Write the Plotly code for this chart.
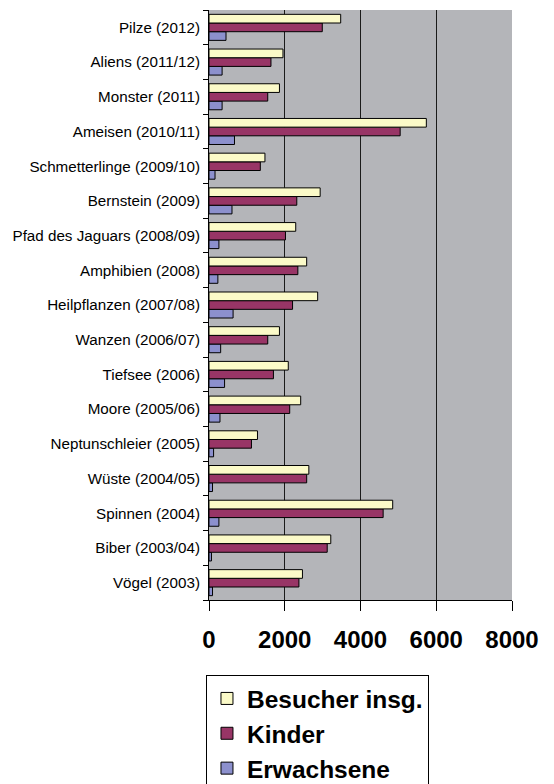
import plotly.graph_objects as go

categories = [
    "Vögel (2003)", "Biber (2003/04)", "Spinnen (2004)", "Wüste (2004/05)",
    "Neptunschleier (2005)", "Moore (2005/06)", "Tiefsee (2006)", "Wanzen (2006/07)",
    "Heilpflanzen (2007/08)", "Amphibien (2008)", "Pfad des Jaguars (2008/09)",
    "Bernstein (2009)", "Schmetterlinge (2009/10)", "Ameisen (2010/11)",
    "Monster (2011)", "Aliens (2011/12)", "Pilze (2012)",
]
besucher = [2467, 3215, 4850, 2636, 1280, 2421, 2093, 1860, 2869, 2579, 2290, 2935, 1477, 5738, 1860, 1953, 3477]
kinder = [2374, 3121, 4598, 2579, 1121, 2131, 1701, 1551, 2206, 2346, 2019, 2318, 1355, 5047, 1551, 1636, 2991]
erwachsene = [93, 65, 262, 93, 121, 290, 411, 308, 636, 234, 262, 607, 159, 673, 346, 346, 449]

x_ticks = [0, 2000, 4000, 6000, 8000]

series = [
    ("Erwachsene", erwachsene, "#8C90CD", 3),
    ("Kinder", kinder, "#983566", 2),
    ("Besucher insg.", besucher, "#FBFAC8", 1),
]

fig = go.Figure()
for name, vals, color, rank in series:
    fig.add_trace(go.Bar(
        y=categories, x=vals, name=name, orientation="h",
        marker=dict(color=color, line=dict(color="#000000", width=1)),
        legendrank=rank, legendgroup=name,
    ))

fig.update_layout(
    width=554, height=784,
    margin=dict(l=209, r=42, t=10, b=184),
    paper_bgcolor="#FFFFFF",
    plot_bgcolor="#B4B5B9",
    barmode="group",
    bargap=0.25,
    bargroupgap=0,
    font=dict(family="Liberation Sans, Arial, sans-serif", color="#000000"),
    showlegend=True,
    legend=dict(
        x=-0.01, xanchor="left", yref="container", y=(784 - 675) / 784, yanchor="top",
        bordercolor="#000000", borderwidth=1, bgcolor="#FFFFFF",
        font=dict(size=24.5, family="Liberation Sans, Arial, sans-serif", color="#000000", weight="bold"),
        tracegroupgap=0,
    ),
)
fig.update_xaxes(
    range=[0, 8000], tickvals=x_ticks, ticktext=[str(v) for v in x_ticks],
    showgrid=True, gridcolor="#1A1A1A", gridwidth=1,
    showline=True, linecolor="#000000", linewidth=1,
    ticks="outside", ticklen=10, tickcolor="#000000",
    tickfont=dict(size=24, weight="bold"),
    ticklabelstandoff=8, zeroline=False,
)
fig.update_yaxes(
    categoryorder="array", categoryarray=categories,
    showgrid=False, showline=True, linecolor="#000000", linewidth=1,
    ticks="outside", ticklen=5, tickcolor="#000000", tickson="boundaries",
    tickfont=dict(size=15.2), ticklabelstandoff=5,
)

fig.write_html("out.html")
